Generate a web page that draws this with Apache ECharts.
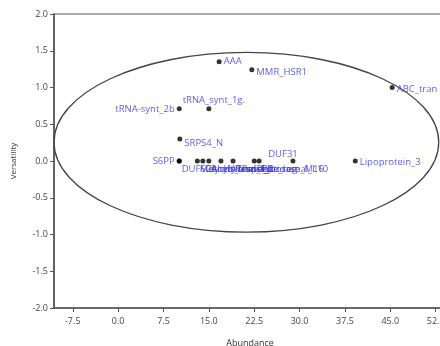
<!DOCTYPE html>
<html><head><meta charset="utf-8">
<script src="https://cdn.jsdelivr.net/npm/echarts@6/dist/echarts.min.js"></script>
<style>html,body{margin:0;padding:0;background:#fff}#c{width:440px;height:346px}</style>
</head><body><div id="c"></div>
<script>
// ---- data ----
const names = ['AAA','MMR_HSR1','ABC_tran','tRNA-synt_2b','tRNA_synt_1g.','SRPS4_N','S6PP','DUF629',
  'Methyltransf_11','Glycos_transf_2','Acetyltransf_1','HATPase_c','Response_reg','Peptidase_M16','Ribosomal_L10',
  'DUF31','Lipoprotein_3'];
const abundance = [16.7, 22.1, 45.3, 10.1, 15.0, 10.2, 10.1, 10.1, 13.1, 14.0, 15.0, 17.0, 19.0, 22.5, 23.3, 28.9, 39.2];
const versatility = [1.35, 1.24, 1.00, 0.71, 0.71, 0.30, 0.0, 0.0, 0.0, 0.0, 0.0, 0.0, 0.0, 0.0, 0.0, 0.0, 0.0];
const xTicks = [-7.5, 0, 7.5, 15, 22.5, 30, 37.5, 45, 52.5];
const ellipseCenter = [21.2, 0.255];
const ellipseRadii = [31.8, 1.222];

// ---- label placement (style) ----
const place = {
  'AAA': {position:'right'}, 'MMR_HSR1': {position:'right', offset:[0,2]}, 'ABC_tran': {position:'right', offset:[0,2]},
  'tRNA-synt_2b': {position:'left'}, 'tRNA_synt_1g.': {position:'top', offset:[5,1]},
  'SRPS4_N': {position:'right', offset:[0,4]}, 'S6PP': {position:'left'},
  'DUF31': {position:'top', offset:[-10,3]}, 'Lipoprotein_3': {position:'right', offset:[0,1]}
};
const pts = names.map((n,i)=>{
  const p = place[n] || {position:'right', offset:[-2,8]};
  return {name:n, value:[abundance[i], versatility[i]], label:Object.assign({show:true}, p)};
});

const chart = echarts.init(document.getElementById('c'));
const axisColor = '#555';
const font = '"Open Sans", sans-serif';
chart.setOption({
  animation:false,
  grid:{left:54, top:14, width:392, bottom:38, outerBoundsMode:'none', containLabel:false,
    show:true, borderColor:axisColor, borderWidth:1.2},
  xAxis:{type:'value', min:-10.6, max:54.2, name:'Abundance', nameLocation:'middle', nameGap:31,
    nameTextStyle:{color:'#333', fontSize:9, fontFamily:font},
    axisLine:{show:true, onZero:false, lineStyle:{color:axisColor, width:1.5}},
    axisTick:{show:true, length:4, customValues:xTicks, lineStyle:{color:axisColor}},
    axisLabel:{customValues:xTicks, color:'#444', fontSize:9, fontFamily:font, margin:9,
      formatter:v=>v.toFixed(1)},
    splitLine:{show:false}},
  yAxis:{type:'value', min:-2, max:2, interval:0.5, name:'Versatility', nameLocation:'middle', nameGap:36,
    nameTextStyle:{color:'#333', fontSize:8, fontFamily:font},
    axisLine:{show:true, onZero:false, lineStyle:{color:axisColor, width:1.5}},
    axisTick:{show:true, length:4, lineStyle:{color:axisColor}},
    axisLabel:{color:'#444', fontSize:9, fontFamily:font, margin:6, formatter:v=>v.toFixed(1)},
    splitLine:{show:false}},
  series:[
    {type:'custom', silent:true, z:1, clip:false,
     data:[[ellipseCenter[0], ellipseCenter[1], ellipseRadii[0], ellipseRadii[1]]],
     renderItem:(params, api)=>{
       const c = api.coord([api.value(0), api.value(1)]);
       const s = api.size([api.value(2), api.value(3)]);
       return {type:'ellipse', shape:{cx:c[0], cy:c[1], rx:s[0], ry:s[1]},
         style:{fill:'none', stroke:'#444', lineWidth:1.3}};
     }},
    {type:'scatter', z:3, symbolSize:5, itemStyle:{color:'#000'},
     label:{color:'#3535dd', fontSize:9.5, fontFamily:font, distance:2, formatter:'{b}'},
     data:pts}
  ]
});
</script></body></html>
